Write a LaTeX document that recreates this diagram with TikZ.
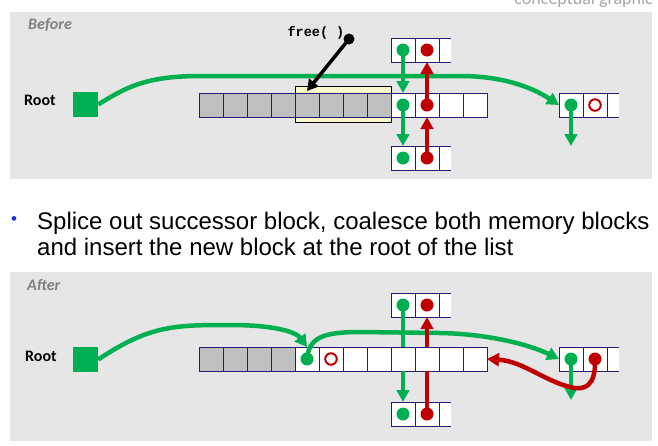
\documentclass[tikz,border=0pt]{standalone}
\usepackage{fontspec}
\setmainfont{Liberation Sans}
\newfontfamily\calib{Carlito}
\newfontfamily\monob{Liberation Mono}
\usetikzlibrary{arrows.meta,calc}
\definecolor{pgray}{HTML}{E6E6E6}
\definecolor{cgray}{HTML}{BFBFBF}
\definecolor{navy}{HTML}{1F1F78}
\definecolor{mgreen}{HTML}{00B050}
\definecolor{mred}{HTML}{C00000}
\definecolor{ybox}{HTML}{FAF6C8}
\definecolor{lblgray}{HTML}{808080}
\definecolor{bulblue}{HTML}{1030E0}
\tikzset{
  cell/.style={draw=navy,line width=1pt,minimum width=24pt,minimum height=24pt,inner sep=0pt,outer sep=0pt,fill=white},
  pcell/.style={draw=none,minimum width=12pt,minimum height=24pt,inner sep=0pt,outer sep=0pt,fill=white},
  gdot/.style={circle,fill=mgreen,minimum size=13pt,inner sep=0pt},
  rdot/.style={circle,fill=mred,minimum size=13pt,inner sep=0pt},
  hdot/.style={circle,draw=mred,line width=2pt,fill=white,minimum size=11.5pt,inner sep=0pt},
  bdot/.style={circle,fill=black,minimum size=11pt,inner sep=0pt},
  rootsq/.style={fill=mgreen,minimum width=25pt,minimum height=25pt,inner sep=0pt},
  panel/.style={fill=pgray,draw=none},
  gvert/.style={draw=mgreen,line width=3.5pt},
  rvert/.style={draw=mred,line width=3.5pt},
  garr/.style={gvert,-{Triangle[width=12.5pt,length=12pt]}},
  rarr/.style={rvert,-{Triangle[width=12.5pt,length=12pt]}},
  gcurve/.style={draw=mgreen,line width=4.5pt,-{Triangle[width=13pt,length=12pt]}},
  rcurve/.style={draw=mred,line width=4.5pt,-{Triangle[width=13pt,length=12pt]}},
  barr/.style={draw=black,line width=3.5pt,-{Triangle[width=12pt,length=11pt]}},
  lbl/.style={font=\calib\bfseries\itshape\fontsize{16}{18}\selectfont,text=lblgray,inner sep=0pt},
  rootlbl/.style={font=\calib\bfseries\fontsize{16}{18}\selectfont,inner sep=0pt},
  body/.style={font=\fontsize{24}{28}\selectfont,inner sep=0pt},
}
\begin{document}
\begin{tikzpicture}[x=1pt,y=-1pt]
\useasboundingbox (0,0) rectangle (658,445);
% corner note (cut by the top edge, as in the reference)
\node[anchor=base east,inner sep=0pt,font=\calib\fontsize{18}{20}\selectfont,text=black!35] (note) at (653,4) {conceptual graphic};
% ===== BEFORE panel =====
\fill[panel] (10,12) rectangle (652,179);
\node[lbl,anchor=west] (before) at (28,25) {Before};
\node[rootlbl,anchor=west] (rootA) at (24,100) {Root};
\node[rootsq] (rsqA) at (85.5,104.5) {};
\node[draw=black,line width=0.8pt,fill=ybox,minimum width=96pt,minimum height=36pt,inner sep=0pt] (fb) at (343,104) {};
\foreach \i in {1,...,12}{
  \ifnum\i<9 \def\cf{cgray}\else\def\cf{white}\fi
  \node[cell,fill=\cf] (a\i) at ({211+24*(\i-1)},105) {};
}
% top small block
\node[cell] (ta1) at (403,50) {};
\node[cell] (ta2) at (427,50) {};
\node[pcell] (ta3) at (445,50) {};
\draw[navy,line width=1pt] (ta3.north east) -- (ta3.north west) -- (ta3.south west) -- (ta3.south east);
% bottom small block
\node[cell] (ba1) at (403,158) {};
\node[cell] (ba2) at (427,158) {};
\node[pcell] (ba3) at (445,158) {};
\draw[navy,line width=1pt] (ba3.north east) -- (ba3.north west) -- (ba3.south west) -- (ba3.south east);
% right block
\node[cell] (ra1) at (571,105) {};
\node[cell] (ra2) at (595,105) {};
\node[pcell] (ra3) at (613,105) {};
\draw[navy,line width=1pt] (ra3.north east) -- (ra3.north west) -- (ra3.south west) -- (ra3.south east);
% dots
\node[gdot] (dta1) at (ta1) {};
\node[rdot] (dta2) at (ta2) {};
\node[gdot] (da9) at (a9) {};
\node[rdot] (da10) at (a10) {};
\node[gdot] (dba1) at (ba1) {};
\node[rdot] (dba2) at (ba2) {};
\node[gdot] (dra1) at (ra1) {};
\node[hdot] (dra2) at (ra2) {};
\coordinate (raend) at (571,146);
% green list curve
\draw[gcurve] (rsqA.east) .. controls (125,88) and (145,76) .. (200,76) -- (460,76) .. controls (500,76) and (530,86) .. (ra1.west);
% vertical links
\draw[garr] (dta1.center) -- (a9.north);
\draw[garr] (da9.center) -- (ba1.north);
\draw[rarr] (da10.center) -- (ta2.south);
\draw[rarr] (dba2.center) -- (a10.south);
\draw[garr] (dra1.center) -- (raend);
% free pointer
\node[inner sep=0pt,font=\monob\bfseries\fontsize{13.5}{15}\selectfont] (ft) at (316,33) {free(~)};
\node[bdot] (fd) at (349,39) {};
\draw[barr] (fd.center) -- ($(a5.north)+(0,-2)$);
% ===== bullet text =====
\node[inner sep=0pt,font=\fontsize{17}{17}\selectfont,text=bulblue] (bul) at (14,221) {\textbullet};
\node[body,anchor=base west] (t1) at (37,229) {Splice out successor block, coalesce both memory blocks};
\node[body,anchor=base west] (t2) at (37,255) {and insert the new block at the root of the list};
% ===== AFTER panel =====
\fill[panel] (10,272) rectangle (652,441);
\node[lbl,anchor=west] (after) at (27,285) {After};
\node[rootlbl,anchor=west] (rootB) at (25,356) {Root};
\node[rootsq] (rsqB) at (85.5,359.5) {};
\foreach \i in {1,...,12}{
  \ifnum\i<5 \def\cf{cgray}\else\def\cf{white}\fi
  \node[cell,fill=\cf] (b\i) at ({211+24*(\i-1)},359) {};
}
\node[cell] (tb1) at (403,305) {};
\node[cell] (tb2) at (427,305) {};
\node[pcell] (tb3) at (445,305) {};
\draw[navy,line width=1pt] (tb3.north east) -- (tb3.north west) -- (tb3.south west) -- (tb3.south east);
\node[cell] (bb1) at (403,414) {};
\node[cell] (bb2) at (427,414) {};
\node[pcell] (bb3) at (445,414) {};
\draw[navy,line width=1pt] (bb3.north east) -- (bb3.north west) -- (bb3.south west) -- (bb3.south east);
\node[cell] (rb1) at (571,359) {};
\node[cell] (rb2) at (595,359) {};
\node[pcell] (rb3) at (613,359) {};
\draw[navy,line width=1pt] (rb3.north east) -- (rb3.north west) -- (rb3.south west) -- (rb3.south east);
% dots
\node[gdot] (dtb1) at (tb1) {};
\node[rdot] (dtb2) at (tb2) {};
\node[gdot] (dbb1) at (bb1) {};
\node[rdot] (dbb2) at (bb2) {};
\node[gdot] (db5) at (b5) {};
\node[hdot] (db6) at (b6) {};
\node[gdot] (drb1) at (rb1) {};
\node[rdot] (drb2) at (rb2) {};
\coordinate (rbend) at (571,400);
% curves
\draw[gcurve] (rsqB.east) .. controls (150,325) and (175,325) .. (230,325) .. controls (275,325) and (296,332) .. (b5.north);
\draw[gcurve] (db5.center) .. controls (309,338) and (322,332) .. (360,332) -- (440,333) .. controls (490,334) and (530,345) .. (rb1.west);
% vertical links (hidden behind the row)
\draw[gvert] (dtb1.center) -- (b9.north);
\draw[garr] (b9.south) -- (bb1.north);
\draw[rvert] (dbb2.center) -- (b10.south);
\draw[rarr] (b10.north) -- (tb2.south);
\draw[garr] (drb1.center) -- (rbend);
\draw[rcurve] (drb2.center) .. controls (596,386) and (585,391) .. (570,387) .. controls (545,381) and (522,361) .. (b12.east);
\end{tikzpicture}
\end{document}
